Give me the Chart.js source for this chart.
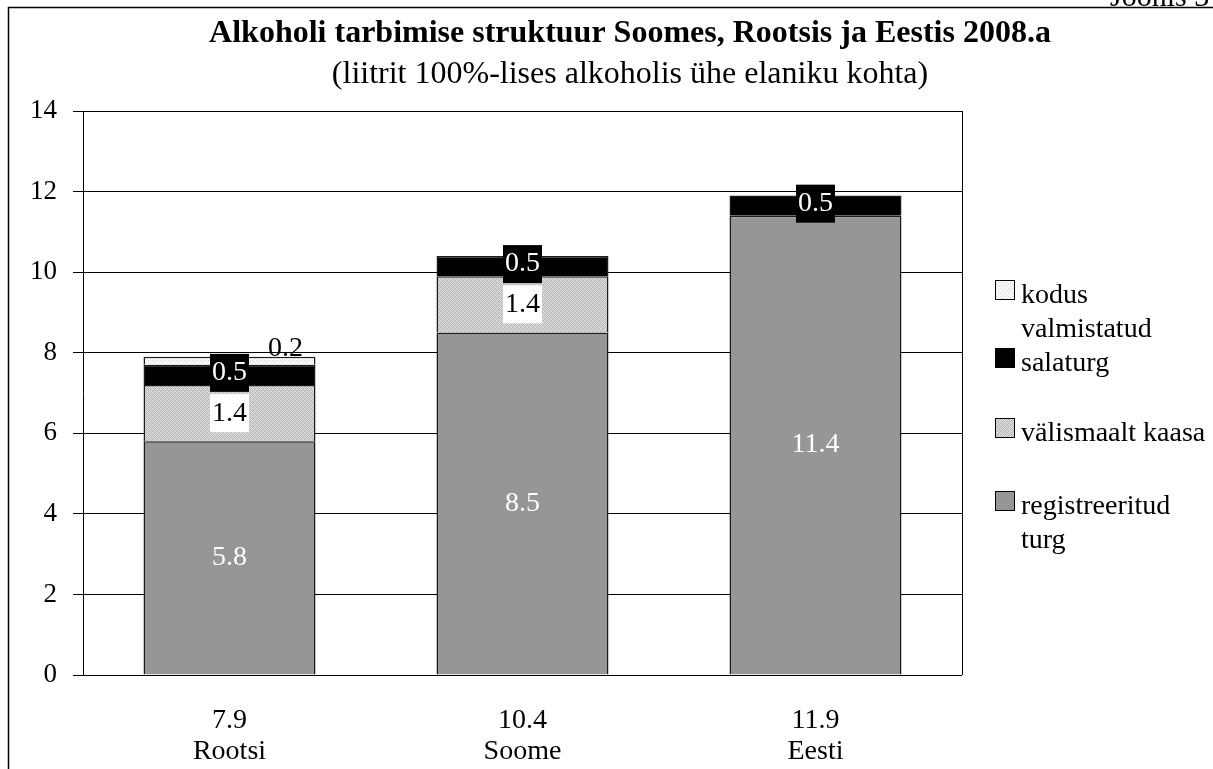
<!DOCTYPE html>
<html>
<head>
<meta charset="utf-8">
<script src="https://cdn.jsdelivr.net/npm/chart.js@4/dist/chart.umd.min.js"></script>
<style>
html, body { margin: 0; padding: 0; background: #fff; }
#wrap { width: 1213px; height: 769px; }
</style>
</head>
<body>
<div id="wrap"><canvas id="chart" width="1213" height="769"></canvas></div>
<script>
const countries = ['Rootsi', 'Soome', 'Eesti'];
const totals = ['7.9', '10.4', '11.9'];
const registreeritud = [5.8, 8.5, 11.4];
const valismaalt = [1.4, 1.4, null];
const salaturg = [0.5, 0.5, 0.5];
const kodus = [0.2, null, null];
const legendNames = [['kodus', 'valmistatud'], ['salaturg'], ['välismaalt kaasa'], ['registreeritud', 'turg']];

const FONT = '"Liberation Serif", "Times New Roman", serif';

function makePattern(kind) {
    const c = document.createElement('canvas');
    c.width = 4; c.height = 4;
    const g = c.getContext('2d');
    if (kind === 'hatch') {
        g.fillStyle = '#dcdcdc';
        g.fillRect(0, 0, 4, 4);
        g.fillStyle = '#b0b0b0';
        for (let i = 0; i < 4; i++) g.fillRect(i, 3 - i, 1, 1);
        g.fillStyle = '#c6c6c6';
        for (let i = 0; i < 4; i++) g.fillRect(i, (5 - i) % 4, 1, 1);
    } else {
        g.fillStyle = '#f6f6f6';
        g.fillRect(0, 0, 4, 4);
        g.fillStyle = '#d4d4d4';
        g.fillRect(0, 0, 1, 1);
        g.fillRect(2, 2, 1, 1);
    }
    return document.getElementById('chart').getContext('2d').createPattern(c, 'repeat');
}

const hatch = makePattern('hatch');
const dots = makePattern('dots');
const legendFills = [dots, '#000000', hatch, '#969696'];

const frame = {
    id: 'frame',
    beforeDraw(chart) {
        const ctx = chart.ctx;
        ctx.save();
        ctx.fillStyle = '#fff';
        ctx.fillRect(0, 0, chart.width, chart.height);
        ctx.strokeStyle = '#000';
        ctx.lineWidth = 1.5;
        ctx.beginPath();
        ctx.moveTo(8.5, chart.height);
        ctx.lineTo(8.5, 7.5);
        ctx.lineTo(chart.width, 7.5);
        ctx.stroke();
        ctx.fillStyle = '#000';
        ctx.font = '30px ' + FONT;
        ctx.textBaseline = 'alphabetic';
        ctx.fillText('Joonis 3', 1110, 6);
        ctx.textAlign = 'center';
        ctx.font = 'bold 32px ' + FONT;
        ctx.fillText('Alkoholi tarbimise struktuur Soomes, Rootsis ja Eestis 2008.a', 630, 42);
        ctx.font = '32px ' + FONT;
        ctx.fillText('(liitrit 100%-lises alkoholis ühe elaniku kohta)', 630, 83);
        ctx.restore();
    },
    afterDraw(chart) {
        const ctx = chart.ctx;
        const a = chart.chartArea;
        ctx.save();
        ctx.strokeStyle = '#000';
        ctx.lineWidth = 1;
        ctx.beginPath();
        ctx.moveTo(Math.round(a.right) + 0.5, a.top);
        ctx.lineTo(Math.round(a.right) + 0.5, a.bottom);
        ctx.stroke();
        // legend
        const rows = [303, 371, 441, 514];
        ctx.font = '28px ' + FONT;
        ctx.textBaseline = 'alphabetic';
        ctx.textAlign = 'left';
        legendNames.forEach((lines, i) => {
            const y = rows[i];
            ctx.fillStyle = legendFills[i];
            ctx.fillRect(996, y - 22, 18, 18);
            ctx.strokeStyle = '#000';
            ctx.strokeRect(995.5, y - 22.5, 19, 19);
            ctx.fillStyle = '#000';
            lines.forEach((t, j) => ctx.fillText(t, 1021, y + j * 34));
        });
        ctx.restore();
    }
};

const valueLabels = {
    id: 'valueLabels',
    afterDatasetsDraw(chart) {
        const ctx = chart.ctx;
        ctx.save();
        ctx.font = '28px ' + FONT;
        ctx.textAlign = 'center';
        ctx.textBaseline = 'middle';
        chart.data.datasets.forEach((ds, di) => {
            const meta = chart.getDatasetMeta(di);
            meta.data.forEach((el, i) => {
                const v = ds.data[i];
                if (v == null) return;
                const txt = v.toFixed(1);
                const y = (el.y + el.base) / 2;
                const w = ctx.measureText(txt).width + 4;
                if (ds.labelStyle === 'plain-white') {
                    ctx.fillStyle = '#fff';
                    ctx.fillText(txt, el.x, y);
                } else if (ds.labelStyle === 'white-box') {
                    ctx.fillStyle = '#fff';
                    ctx.fillRect(el.x - w / 2, y - 19, w, 38);
                    ctx.fillStyle = '#000';
                    ctx.fillText(txt, el.x, y);
                } else if (ds.labelStyle === 'black-box') {
                    ctx.fillStyle = '#000';
                    ctx.fillRect(el.x - w / 2, y - 21, w, 38);
                    ctx.fillStyle = '#fff';
                    ctx.fillText(txt, el.x, y - 2);
                } else {
                    ctx.fillStyle = '#000';
                    ctx.fillText(txt, el.x + 56, y - 12);
                }
            });
        });
        ctx.restore();
    }
};

new Chart(document.getElementById('chart'), {
    type: 'bar',
    data: {
        labels: countries.map((c, i) => [totals[i], c]),
        datasets: [
            { label: 'registreeritud turg', data: registreeritud, backgroundColor: '#969696', labelStyle: 'plain-white' },
            { label: 'välismaalt kaasa', data: valismaalt, backgroundColor: hatch, labelStyle: 'white-box' },
            { label: 'salaturg', data: salaturg, backgroundColor: '#000000', labelStyle: 'black-box' },
            { label: 'kodus valmistatud', data: kodus, backgroundColor: dots, labelStyle: 'outside' }
        ]
    },
    options: {
        responsive: false,
        animation: false,
        layout: { padding: { left: 0, top: 111, right: 251, bottom: 0 } },
        datasets: {
            bar: {
                borderColor: '#1a1a1a',
                borderWidth: 1.5,
                barPercentage: 0.587,
                categoryPercentage: 1
            }
        },
        scales: {
            x: {
                stacked: true,
                grid: { display: false },
                border: { display: false },
                ticks: { color: '#000', font: { family: FONT, size: 28, lineHeight: 1.12 }, padding: 22 },
                afterFit(s) { s.height = 94; }
            },
            y: {
                stacked: true,
                min: 0,
                max: 14,
                ticks: { stepSize: 2, color: '#000', font: { family: FONT, size: 27 }, padding: 16 },
                grid: { color: '#000', lineWidth: 1, tickLength: 10 },
                border: { display: true, color: '#000', width: 1 },
                afterFit(s) { s.width = 83; }
            }
        },
        plugins: {
            legend: { display: false },
            title: { display: false },
            tooltip: { enabled: false }
        }
    },
    plugins: [frame, valueLabels]
});
</script>
</body>
</html>
